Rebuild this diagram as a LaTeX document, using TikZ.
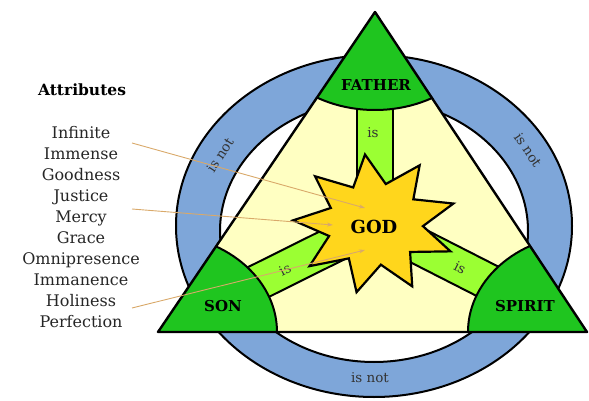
\documentclass[tikz,border=0pt]{standalone}
\usepackage{fontspec}
\setmainfont{DejaVu Serif}
\usetikzlibrary{calc,arrows.meta}
\definecolor{ringblue}{HTML}{7EA6D9}
\definecolor{cornergreen}{HTML}{1FC51F}
\definecolor{barlime}{HTML}{9BFF33}
\definecolor{paleyellow}{HTML}{FFFFC2}
\definecolor{stargold}{HTML}{FFD61C}
\definecolor{pointer}{HTML}{D9A96A}
\definecolor{labelgray}{HTML}{333333}
\begin{document}
\begin{tikzpicture}[x=1pt,y=-1pt,
  outline/.style={draw=black,line width=2.4pt,line join=round},
  rim/.style={draw=black,line width=2pt},
  person/.style={font=\fontsize{15}{18}\selectfont\bfseries},
  attr/.style={font=\fontsize{16}{21}\selectfont,text=black!85,align=center},
  small/.style={font=\fontsize{13.5}{16}\selectfont,text=labelgray},
  pointto/.style={draw=pointer,line width=0.9pt,-{Stealth[length=6pt,width=4pt]}}]
\useasboundingbox (0,0) rectangle (589,401);
\coordinate (top) at (375,12);
\coordinate (left) at (158,332);
\coordinate (right) at (587,332);
\coordinate (god) at (375,224);
\fill[ringblue,even odd rule] (374,226) ellipse (198 and 171) (374,231) ellipse (154 and 131);
\draw[rim] (374,226) ellipse (198 and 171);
\draw[rim] (374,231) ellipse (154 and 131);
\fill[paleyellow] (top)--(left)--(right)--cycle;
\begin{scope}
  \clip (top)--(left)--(right)--cycle;
  \foreach \v in {top,left,right}
    \filldraw[fill=barlime,rim] ($(\v)!18pt!90:(god)$)--($(god)!18pt!-90:(\v)$)--($(god)!18pt!90:(\v)$)--($(\v)!18pt!-90:(god)$)--cycle;
  \foreach \v in {top,left,right}
    \filldraw[fill=cornergreen,rim] (\v) ellipse (119 and 98);
\end{scope}
\filldraw[fill=stargold,line width=2.2pt,line join=miter]
  plot[samples at={0,...,17},variable=\k]
  ({375+cos(-97-20*\k)*ifthenelse(mod(\k,2)==0,82,48)},{224+sin(-97-20*\k)*ifthenelse(mod(\k,2)==0,70,41)}) -- cycle;
\draw[outline] (top)--(left)--(right)--cycle;
\node[person] (father) at (376,85) {FATHER};
\node[person] (son) at (223,306) {SON};
\node[person] (spirit) at (525,306) {SPIRIT};
\node[font=\fontsize{18}{20}\selectfont\bfseries] (godlabel) at (374,227) {GOD};
\node[small] (isfather) at (373,133) {is};
\node[small,rotate=27] (isson) at (285,270) {is};
\node[small,rotate=-27] (isspirit) at (460,268) {is};
\node[small,rotate=57] (notleft) at (220,155) {is not};
\node[small,rotate=-56] (notright) at (528,150) {is not};
\node[small] (notbottom) at (370,378) {is not};
\node[font=\fontsize{15.5}{18}\selectfont\bfseries] (heading) at (82,90) {Attributes};
\node[attr] (attrs) at (81,227) {Infinite\\Immense\\Goodness\\Justice\\Mercy\\Grace\\Omnipresence\\Immanence\\Holiness\\Perfection};
\coordinate (from1) at (132,143);
\coordinate (from2) at (132,209);
\coordinate (from3) at (132,308);
\coordinate (to1) at (365,208);
\coordinate (to2) at (333,225);
\coordinate (to3) at (365,250);
\draw[pointto] (from1)--(to1);
\draw[pointto] (from2)--(to2);
\draw[pointto] (from3)--(to3);
\end{tikzpicture}
\end{document}
